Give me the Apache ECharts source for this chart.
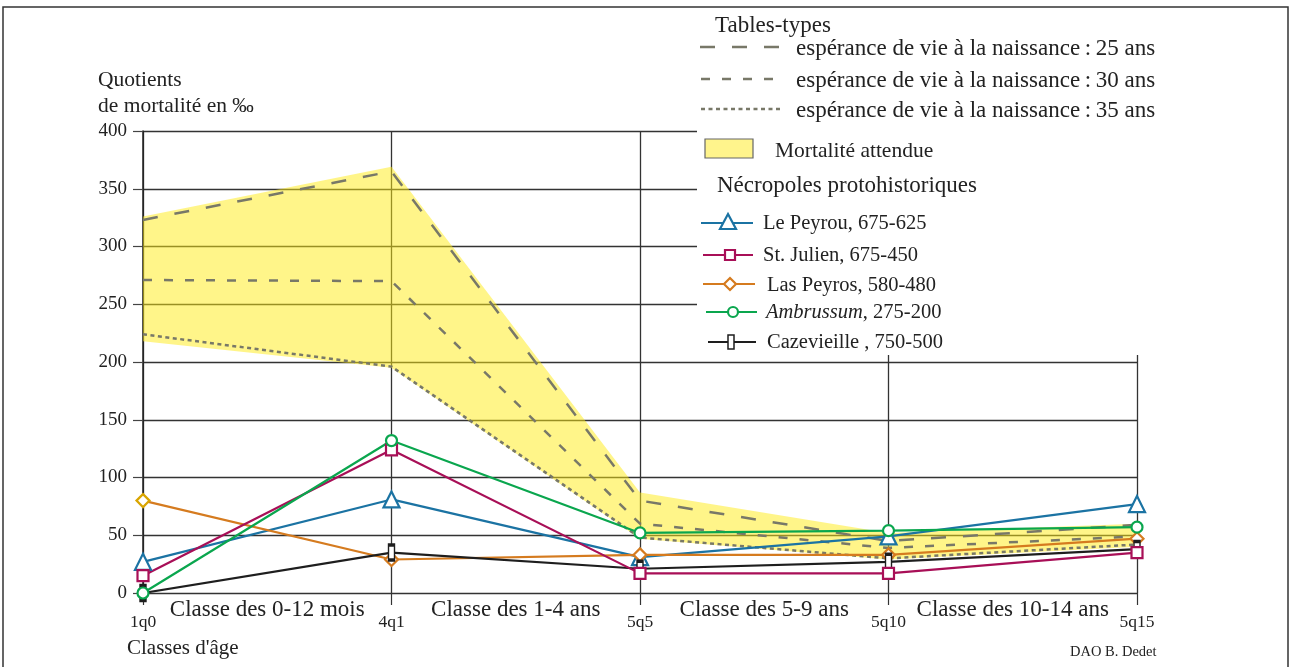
<!DOCTYPE html>
<html>
<head>
<meta charset="utf-8">
<script src="https://cdn.jsdelivr.net/npm/echarts@6/dist/echarts.min.js"></script>
<style>
html,body{margin:0;padding:0;background:#fff;}
#c{width:1290px;height:667px;}
</style>
</head>
<body>
<div id="c"></div>
<script>
// ---- data ----
var ages = ['1q0', '4q1', '5q5', '5q10', '5q15'];
var classes = ['Classe des 0-12 mois', 'Classe des 1-4 ans', 'Classe des 5-9 ans', 'Classe des 10-14 ans'];
var yTicks = [0, 50, 100, 150, 200, 250, 300, 350, 400];

var bandUpper = [326, 369, 87, 52, 60];
var bandLower = [218, 195, 47, 29, 40];

var e25 = [323, 365, 80, 45, 59];
var e30 = [271, 270, 60, 39, 49];
var e35 = [224, 196, 48, 30, 42];

var lePeyrou = [27, 81, 31, 49, 77];
var stJulien = [15, 124, 17, 17, 35];
var lasPeyros = [80, 29, 33, 33, 47];
var ambrussum = [0, 132, 52, 54, 57];
var cazevieille = [0, 35, 21, 27, 38];

var FONT = '"Liberation Serif", "DejaVu Serif", serif';
var TXT = '#222';

var cPeyrou = '#1b73a3';
var cJulien = '#a80f57';
var cLas = '#d57b1f';
var cLasFirst = '#d9a500';
var cAmb = '#0aa64e';
var cCaz = '#1e1e1e';
var cTab = '#787868';

function mark(name, data, color, symbol, size, firstColor) {
  return {
    name: name, type: 'line', data: data.map(function (v, i) {
      if (i === 0 && firstColor) return { value: v, itemStyle: { borderColor: firstColor } };
      return v;
    }),
    symbol: symbol, symbolSize: size, showSymbol: true,
    lineStyle: { color: color, width: 2.2 },
    itemStyle: { color: '#fff', borderColor: color, borderWidth: 2.2 },
    z: 5, emphasis: { disabled: true }
  };
}
function table(name, data, dash, width) {
  return {
    name: name, type: 'line', data: data, symbol: 'none',
    lineStyle: { color: cTab, width: width || 2.5, type: dash },
    z: 3, emphasis: { disabled: true }
  };
}

var chart = echarts.init(document.getElementById('c'));

// legend helpers
var LX = 697;
var DY = 2;
function legLine(x1, x2, y, color, dash) {
  return { type: 'line', shape: { x1: x1, y1: y, x2: x2, y2: y }, style: { stroke: color, lineWidth: dash ? 2.5 : 2.2, lineDash: dash || null }, z: 102 };
}
function txt(x, y, s, size, extra) {
  var st = { text: s, x: x, y: y + DY, fill: TXT, font: size + 'px ' + FONT, textVerticalAlign: 'middle', textAlign: 'left' };
  if (extra) for (var k in extra) st[k] = extra[k];
  return { type: 'text', style: st, z: 103 };
}

var graphics = [
  // outer frame
  { type: 'rect', shape: { x: 3, y: 7, width: 1285, height: 670 }, style: { fill: 'none', stroke: '#333', lineWidth: 1.5 }, z: 100 },
  // legend background (covers gridlines)
  { type: 'rect', shape: { x: LX, y: 9, width: 480, height: 346 }, style: { fill: '#fff' }, z: 101 },
  txt(715, 24, 'Tables-types', 23),
  legLine(700, 780, 47, cTab, [15, 17]),
  txt(796, 47, 'espérance de vie à la naissance\u2009:\u200925 ans', 23),
  legLine(701, 780, 79, cTab, [9, 12]),
  txt(796, 79, 'espérance de vie à la naissance\u2009:\u200930 ans', 23),
  legLine(701, 780, 109, cTab, [4, 3.5]),
  txt(796, 109, 'espérance de vie à la naissance\u2009:\u200935 ans', 23),
  { type: 'rect', shape: { x: 705, y: 139, width: 48, height: 19 }, style: { fill: '#fff48c', stroke: '#666', lineWidth: 1.2 }, z: 102 },
  txt(775, 149, 'Mortalité attendue', 21.5),
  txt(717, 184, 'Nécropoles protohistoriques', 23),
  // Le Peyrou
  legLine(701, 753, 223, cPeyrou),
  { type: 'polygon', shape: { points: [[728, 214], [736, 229], [720, 229]] }, style: { fill: '#fff', stroke: cPeyrou, lineWidth: 2.2 }, z: 103 },
  txt(763, 222, 'Le Peyrou, 675-625', 20.5),
  // St Julien
  legLine(703, 753, 255, cJulien),
  { type: 'rect', shape: { x: 725, y: 250, width: 10, height: 10 }, style: { fill: '#fff', stroke: cJulien, lineWidth: 2.2 }, z: 103 },
  txt(763, 254, 'St. Julien, 675-450', 20.5),
  // Las Peyros
  legLine(703, 755, 284, cLas),
  { type: 'polygon', shape: { points: [[730, 278], [736, 284], [730, 290], [724, 284]] }, style: { fill: '#fff', stroke: cLas, lineWidth: 2.2 }, z: 103 },
  txt(767, 284, 'Las Peyros, 580-480', 20.5),
  // Ambrussum
  legLine(706, 757, 312, cAmb),
  { type: 'circle', shape: { cx: 733, cy: 312, r: 5 }, style: { fill: '#fff', stroke: cAmb, lineWidth: 2.2 }, z: 103 },
  { type: 'text', style: { text: '{i|Ambrussum}, 275-200', x: 766, y: 313, fill: TXT, font: '20.5px ' + FONT, textVerticalAlign: 'middle', rich: { i: { fontStyle: 'italic', fontFamily: FONT, fontSize: 20.5, fill: TXT } } }, z: 103 },
  // Cazevieille
  legLine(708, 756, 342, cCaz),
  { type: 'rect', shape: { x: 728, y: 335, width: 6, height: 14 }, style: { fill: '#fff', stroke: cCaz, lineWidth: 1.5 }, z: 103 },
  txt(767, 341, 'Cazevieille , 750-500', 20.5),
  // axis titles & credits
  txt(98, 78, 'Quotients', 21.5),
  txt(98, 104, 'de mortalité en \u2030', 21.5),
  txt(127, 646, "Classes d'âge", 21),
  txt(1070, 650, 'DAO B. Dedet', 14.5)
];

var option = {
  animation: false,
  backgroundColor: '#fff',
  grid: { left: 143, right: 153, top: 131, bottom: 74, containLabel: false },
  xAxis: [
    {
      type: 'category', data: ages, boundaryGap: false, position: 'bottom',
      axisLine: { show: true, lineStyle: { color: '#333', width: 1.2 } },
      axisTick: { show: true, length: 12, lineStyle: { color: '#333', width: 1.2 } },
      axisLabel: { color: TXT, fontFamily: FONT, fontSize: 17.5, margin: 20 },
      splitLine: { show: true, lineStyle: { color: '#333', width: 1.3 } }
    },
    {
      type: 'category', data: classes, boundaryGap: true, position: 'bottom', offset: 0,
      axisLine: { show: false }, axisTick: { show: false },
      axisLabel: { color: TXT, fontFamily: FONT, fontSize: 23, margin: 5, interval: 0 },
      splitLine: { show: false }
    }
  ],
  yAxis: {
    type: 'value', min: 0, max: 400, interval: 50,
    axisLine: { show: true, lineStyle: { color: '#222', width: 1.5 } },
    axisTick: { show: true, length: 10, lineStyle: { color: '#444', width: 1.2 } },
    axisLabel: { color: TXT, fontFamily: FONT, fontSize: 19, margin: 16, padding: [4, 0, 0, 0],
      formatter: function (v) { return yTicks.indexOf(v) >= 0 ? String(v) : ''; } },
    splitLine: { show: true, lineStyle: { color: '#333', width: 1.3 } }
  },
  graphic: graphics,
  series: [
    { name: 'bandLow', type: 'line', stack: 'band', data: bandLower, symbol: 'none', lineStyle: { opacity: 0 }, z: 1, emphasis: { disabled: true } },
    { name: 'Mortalité attendue', type: 'line', stack: 'band', data: bandUpper.map(function (u, i) { return u - bandLower[i]; }), symbol: 'none',
      lineStyle: { opacity: 0 }, areaStyle: { color: 'rgba(255,236,20,0.5)', opacity: 1 }, z: 1, emphasis: { disabled: true } },
    table('25 ans', e25, [15, 17], 2.5),
    table('30 ans', e30, [9, 12], 2.5),
    table('35 ans', e35, [4, 3.5], 2.5),
    mark('Le Peyrou, 675-625', lePeyrou, cPeyrou, 'triangle', 16),
    mark('Las Peyros, 580-480', lasPeyros, cLas, 'diamond', 13, cLasFirst),
    mark('Cazevieille , 750-500', cazevieille, cCaz, 'rect', [6, 15]),
    mark('St. Julien, 675-450', stJulien, cJulien, 'rect', 11),
    mark('Ambrussum, 275-200', ambrussum, cAmb, 'circle', 11)
  ]
};
chart.setOption(option);
</script>
</body>
</html>
